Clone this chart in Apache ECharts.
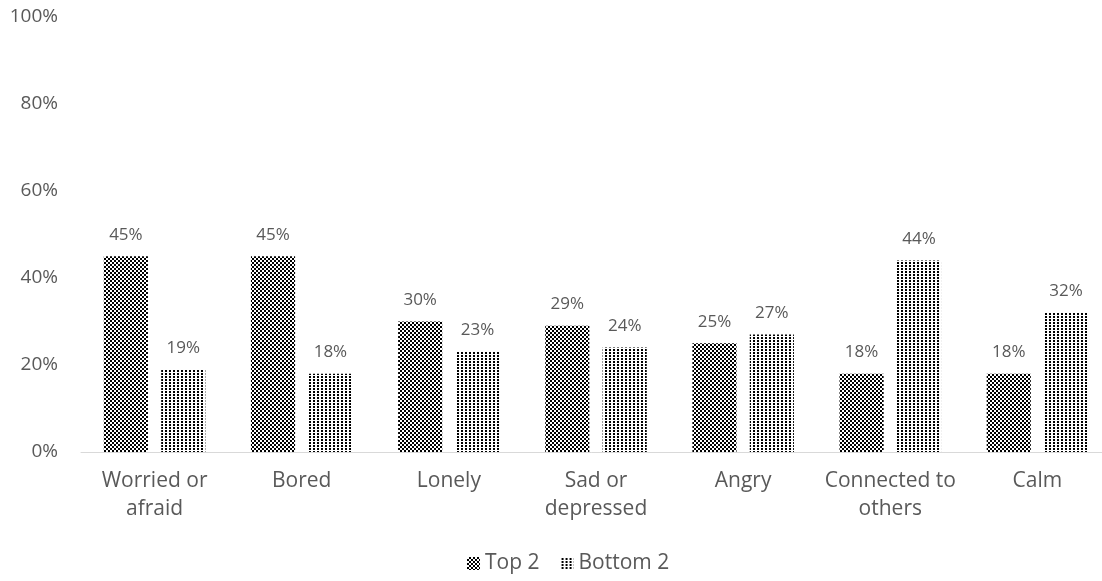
<!DOCTYPE html>
<html>
<head>
<meta charset="utf-8">
<script src="https://cdn.jsdelivr.net/npm/echarts@6/dist/echarts.min.js"></script>
<style>
  html, body { margin: 0; padding: 0; background: #ffffff; }
  #chart { width: 1102px; height: 581px; }
</style>
</head>
<body>
<div id="chart"></div>
<script>
// Feelings asked about, with the share answering in the top two and bottom two boxes
var categories = ['Worried or\nafraid', 'Bored', 'Lonely', 'Sad or\ndepressed', 'Angry', 'Connected to\nothers', 'Calm'];
var top2Values = [45, 45, 30, 29, 25, 18, 18];
var bottom2Values = [19, 18, 23, 24, 27, 44, 32];
var seriesNames = ['Top 2', 'Bottom 2'];

// Checkerboard fill for "Top 2"
function checkerPattern() {
  var c = document.createElement('canvas');
  c.width = 4; c.height = 4;
  var g = c.getContext('2d');
  g.fillStyle = '#000000';
  g.fillRect(0, 0, 4, 4);
  g.fillStyle = '#ffffff';
  g.fillRect(0, 0, 2, 2);
  g.fillRect(2, 2, 2, 2);
  return c;
}

// Small dot grid fill for "Bottom 2"
function dotPattern() {
  var c = document.createElement('canvas');
  c.width = 4; c.height = 3;
  var g = c.getContext('2d');
  g.fillStyle = '#ffffff';
  g.fillRect(0, 0, 4, 3);
  g.fillStyle = '#000000';
  g.fillRect(1, 1, 2, 2);
  return c;
}

var textColor = '#595959';
var fontFamily = '"Open Sans", Lato, sans-serif';

var chart = echarts.init(document.getElementById('chart'), null, { renderer: 'canvas' });

var labelStyle = {
  show: true,
  position: 'top',
  distance: 13,
  color: textColor,
  fontSize: 17,
  fontFamily: fontFamily,
  formatter: function (p) { return p.value + '%'; }
};

chart.setOption({
  animation: false,
  backgroundColor: '#ffffff',
  // the last category runs slightly past the right edge of the canvas
  grid: { left: 81, width: 1030, top: 17, bottom: 129, containLabel: false, outerBoundsMode: 'none' },
  legend: {
    bottom: 2,
    left: 462,
    icon: 'rect',
    itemWidth: 13,
    itemHeight: 13,
    itemGap: 21,
    textStyle: { color: textColor, fontSize: 21, fontFamily: fontFamily },
    data: seriesNames
  },
  xAxis: {
    type: 'category',
    data: categories,
    axisLine: { lineStyle: { color: '#d9d9d9', width: 1 } },
    axisTick: { show: false },
    axisLabel: {
      color: textColor,
      fontSize: 21,
      fontFamily: fontFamily,
      lineHeight: 28,
      margin: 15,
      interval: 0
    }
  },
  yAxis: {
    type: 'value',
    min: 0,
    max: 100,
    interval: 20,
    axisLine: { show: false },
    axisTick: { show: false },
    splitLine: { show: false },
    axisLabel: {
      color: textColor,
      fontSize: 19,
      fontFamily: fontFamily,
      margin: 23,
      formatter: '{value}%'
    }
  },
  series: [
    {
      name: seriesNames[0],
      type: 'bar',
      data: top2Values,
      barWidth: '30%',
      barGap: '30%',
      itemStyle: { color: { image: checkerPattern(), repeat: 'repeat' } },
      label: labelStyle
    },
    {
      name: seriesNames[1],
      type: 'bar',
      data: bottom2Values,
      barWidth: '30%',
      itemStyle: { color: { image: dotPattern(), repeat: 'repeat' } },
      label: labelStyle
    }
  ]
});
</script>
</body>
</html>
